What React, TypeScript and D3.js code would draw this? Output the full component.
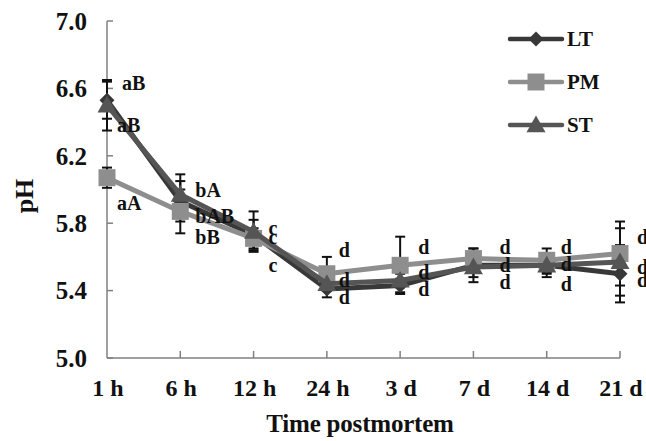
import React from "react";
import * as d3 from "d3";

const categories = ["1 h", "6 h", "12 h", "24 h", "3 d", "7 d", "14 d", "21 d"];
const yTicks = [5.0, 5.4, 5.8, 6.2, 6.6, 7.0];

const seriesNames = ["LT", "PM", "ST"];
const ltValues = [6.53, 5.93, 5.73, 5.41, 5.43, 5.55, 5.55, 5.50];
const pmValues = [6.07, 5.87, 5.71, 5.50, 5.55, 5.59, 5.58, 5.62];
const stValues = [6.50, 5.97, 5.75, 5.44, 5.46, 5.54, 5.55, 5.57];
const ltSd = [0.11, 0.12, 0.09, 0.05, 0.04, 0.10, 0.07, 0.17];
const pmSd = [0.06, 0.13, 0.06, 0.10, 0.17, 0.06, 0.07, 0.19];
const stSd = [0.15, 0.12, 0.12, 0.04, 0.04, 0.06, 0.05, 0.20];

// significance letters: category index, text, pH level
const labelCat = [0, 0, 0, 1, 1, 1, 2, 2, 2, 3, 3, 3, 4, 4, 4, 5, 5, 5, 6, 6, 6, 7, 7, 7];
const labelText = ["aB", "aB", "aA", "bA", "bAB", "bB", "c", "c", "c", "d", "d", "d", "d", "d", "d", "d", "d", "d", "d", "d", "d", "d", "d", "d"];
const labelValue = [6.63, 6.38, 5.92, 6.0, 5.84, 5.72, 5.77, 5.72, 5.55, 5.64, 5.46, 5.36, 5.66, 5.51, 5.41, 5.66, 5.55, 5.45, 5.66, 5.56, 5.44, 5.72, 5.54, 5.46];
const labelDx = [15, 10, 10, 15, 15, 15, 15, 15, 15, 12, 12, 12, 18, 18, 18, 26, 26, 26, 14, 14, 14, 17, 17, 17];

const FONT = '"Liberation Serif", "Times New Roman", "DejaVu Serif", serif';

export default function App() {
  const W = 646, H = 441;
  const x = d3.scalePoint<string>().domain(categories).range([107, 620]);
  const y = d3.scaleLinear().domain([5, 7]).range([358, 21]);

  const series = [
    { name: seriesNames[0], values: ltValues, sd: ltSd, color: "#383838", marker: "diamond" },
    { name: seriesNames[1], values: pmValues, sd: pmSd, color: "#8e8e8e", marker: "square" },
    { name: seriesNames[2], values: stValues, sd: stSd, color: "#555555", marker: "triangle" },
  ];

  const line = d3.line<number>().x((_, i) => x(categories[i])!).y((v) => y(v));

  const markerPath = (type: string, cx: number, cy: number) => {
    if (type === "diamond") {
      const r = 7.5;
      return `M${cx},${cy - r}L${cx + r},${cy}L${cx},${cy + r}L${cx - r},${cy}Z`;
    }
    if (type === "square") {
      const s = 8.5;
      return `M${cx - s},${cy - s}H${cx + s}V${cy + s}H${cx - s}Z`;
    }
    const s = 9.5;
    return `M${cx},${cy - s}L${cx + s},${cy + s * 0.75}L${cx - s},${cy + s * 0.75}Z`;
  };

  const legendY = [39, 82, 125];
  const txt = { fontFamily: FONT, fontWeight: 700 as const, fill: "#111" };

  return (
    <svg width={W} height={H} style={{ position: "absolute", left: 0, top: 0, background: "#fff", fontFamily: FONT }}>
      <rect width={W} height={H} fill="#fff" />
      {/* axes */}
      <line x1={107} x2={107} y1={y(7)} y2={y(5)} stroke="#808080" strokeWidth={1.5} />
      <line x1={107} x2={620} y1={y(5)} y2={y(5)} stroke="#808080" strokeWidth={1.5} />
      {yTicks.map((t) => (
        <g key={t}>
          <line x1={107} x2={113} y1={y(t)} y2={y(t)} stroke="#808080" strokeWidth={1.5} />
          <text x={87} y={y(t)} dy="0.35em" textAnchor="end" style={{ ...txt, fontSize: 25 }}>
            {t.toFixed(1)}
          </text>
        </g>
      ))}
      {categories.map((c, i) => (
        <g key={c}>
          {i > 0 && <line x1={x(c)} x2={x(c)} y1={y(5)} y2={y(5) - 7} stroke="#808080" strokeWidth={1.5} />}
          <text x={x(c)! + 1} y={396} textAnchor="middle" style={{ ...txt, fontSize: 24 }}>
            {c}
          </text>
        </g>
      ))}
      <text x={360} y={432} textAnchor="middle" style={{ ...txt, fontSize: 25, letterSpacing: -0.2 }}>
        Time postmortem
      </text>
      <text transform="translate(33,196) rotate(-90)" textAnchor="middle" style={{ ...txt, fontSize: 26 }}>
        pH
      </text>

      {/* error bars */}
      {series.map((s) =>
        s.values.map((v, i) => {
          const cx = x(categories[i])!;
          const y1 = y(v + s.sd[i]);
          const y2 = y(v - s.sd[i]);
          return (
            <g key={s.name + i} stroke="#111" strokeWidth={2}>
              <line x1={cx} x2={cx} y1={y1} y2={y2} />
              <line x1={cx - 5} x2={cx + 5} y1={y1} y2={y1} />
              <line x1={cx - 5} x2={cx + 5} y1={y2} y2={y2} />
            </g>
          );
        })
      )}

      {/* lines and markers */}
      {series.map((s) => (
        <g key={s.name}>
          <path d={line(s.values) || ""} fill="none" stroke={s.color} strokeWidth={5} strokeLinejoin="round" />
          {s.values.map((v, i) => (
            <path key={i} d={markerPath(s.marker, x(categories[i])!, y(v))} fill={s.color} />
          ))}
        </g>
      ))}

      {/* significance letters */}
      {labelText.map((t, i) => (
        <text
          key={i}
          x={x(categories[labelCat[i]])! + labelDx[i]}
          y={y(labelValue[i])}
          dy="0.35em"
          style={{ ...txt, fontSize: 20 }}
        >
          {t}
        </text>
      ))}

      {/* legend */}
      {series.map((s, i) => (
        <g key={s.name}>
          <line x1={510} x2={562} y1={legendY[i]} y2={legendY[i]} stroke={s.color} strokeWidth={4.5} strokeLinecap="round" />
          <path d={markerPath(s.marker, 536, legendY[i])} fill={s.color} />
          <text x={567} y={legendY[i]} dy="0.35em" style={{ ...txt, fontSize: 21 }}>
            {s.name}
          </text>
        </g>
      ))}
    </svg>
  );
}
